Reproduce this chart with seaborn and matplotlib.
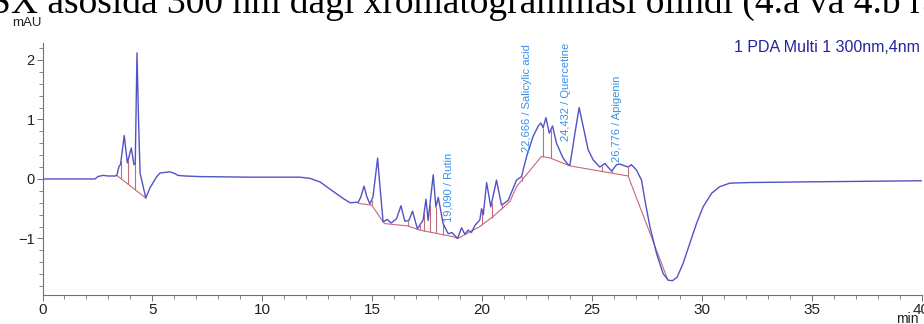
import numpy as np
import pandas as pd
import matplotlib
matplotlib.use("Agg")
import matplotlib.pyplot as plt
import seaborn as sns
from matplotlib.ticker import MultipleLocator

# ---------------- data ----------------
time_min = [0.00, 2.39, 2.52, 2.75, 2.98, 3.30, 3.38, 3.49, 3.55, 3.72, 3.86, 4.04, 4.16, 4.22,
            4.30, 4.37, 4.44, 4.70, 4.89, 5.20, 5.35, 5.57, 5.80, 6.03, 6.16, 6.48, 7.17, 9.44,
            11.26, 11.72, 12.17, 12.63, 13.23, 13.69, 14.00, 14.37, 14.49, 14.63, 14.76, 14.90,
            15.04, 15.25, 15.35, 15.50, 15.69, 15.86, 16.11, 16.31, 16.49, 16.67, 16.84, 17.06,
            17.32, 17.45, 17.55, 17.78, 17.90, 18.01, 18.23, 18.46, 18.63, 18.89, 19.07, 19.22,
            19.37, 19.52, 19.68, 19.90, 19.98, 20.06, 20.21, 20.40, 20.66, 20.89, 21.19, 21.57,
            21.80, 22.03, 22.33, 22.56, 22.68, 22.78, 22.91, 23.06, 23.21, 23.39, 23.69, 23.92,
            24.00, 24.23, 24.42, 24.60, 24.83, 25.06, 25.36, 25.59, 25.90, 26.12, 26.27, 26.65,
            26.80, 27.03, 27.26, 27.41, 27.64, 27.94, 28.24, 28.47, 28.67, 28.88, 29.15, 29.46,
            29.76, 30.06, 30.45, 30.82, 31.28, 32.19, 34.46, 40.00]
signal_mau = [0.00, 0.00, 0.04, 0.06, 0.05, 0.05, 0.06, 0.22, 0.24, 0.73, 0.27, 0.52, 0.24, 0.25,
              2.12, 1.00, 0.10, -0.32, -0.15, 0.04, 0.10, 0.11, 0.12, 0.09, 0.06, 0.05, 0.04, 0.03,
              0.03, 0.03, 0.01, -0.05, -0.21, -0.33, -0.40, -0.39, -0.30, -0.12, -0.30, -0.42,
              -0.30, 0.35, -0.10, -0.72, -0.68, -0.74, -0.67, -0.45, -0.71, -0.70, -0.54, -0.84,
              -0.69, -0.34, -0.70, 0.07, -0.47, -0.31, -0.75, -0.92, -0.90, -1.00, -0.82, -0.93,
              -0.86, -0.90, -0.78, -0.69, -0.50, -0.60, -0.06, -0.47, -0.02, -0.44, -0.36, -0.02,
              0.04, 0.38, 0.72, 0.89, 0.94, 0.86, 1.03, 0.77, 0.89, 0.60, 0.35, 0.24,
              0.23, 0.77, 1.20, 0.89, 0.49, 0.32, 0.20, 0.26, 0.13, 0.24, 0.25, 0.20,
              0.24, 0.15, -0.02, -0.35, -0.80, -1.25, -1.59, -1.70, -1.71, -1.65, -1.42, -1.08,
              -0.75, -0.47, -0.24, -0.13, -0.07, -0.06, -0.05, -0.03]

# integration baselines
base1_t = [3.38, 4.70]
base1_v = [0.06, -0.32]
base2_t = [14.37, 14.98, 15.50, 15.58, 16.63, 17.18, 18.68, 18.90, 19.90, 20.51, 21.27, 21.57,
           22.71, 23.12, 24.00, 26.65, 28.46]
base2_v = [-0.41, -0.44, -0.72, -0.75, -0.79, -0.86, -0.97, -1.00, -0.80, -0.63, -0.38, -0.13,
           0.38, 0.35, 0.22, 0.05, -1.70]
drop_t = [3.57, 3.90, 4.22, 14.98, 16.64, 17.17, 17.36, 17.63, 17.90, 18.23, 19.98, 20.44,
          20.89, 21.80, 22.78, 23.12, 25.44, 25.90, 26.65]

peak_rt = [19.090, 22.666, 24.432, 26.776]
peak_name = ["Rutin", "Salicylic acid", "Quercetine", "Apigenin"]

x_ticks = [0, 5, 10, 15, 20, 25, 30, 35, 40]
y_ticks = [-1, 0, 1, 2]

# ---------------- layout constants ----------------
label_y = [-0.72, 0.46, 0.63, 0.29]
W, H = 924, 324

sns.set_style("ticks")
plt.rcParams["font.family"] = ["Liberation Sans", "DejaVu Sans"]

fig = plt.figure(figsize=(W / 100, H / 100), dpi=100)
ax = fig.add_axes([42.5 / W, 1 - 295 / H, (921.5 - 42.5) / W, (295 - 42.7) / H])

df = pd.DataFrame({"t": time_min, "v": signal_mau})
line_col = "#5252c6"
base_col = "#c46a78"

# baselines
for bt, bv in [(base1_t, base1_v), (base2_t, base2_v)]:
    sns.lineplot(x=bt, y=bv, ax=ax, color=base_col, lw=0.8, sort=False, estimator=None)

# drop lines from curve to baseline
for d in drop_t:
    yc = np.interp(d, time_min, signal_mau)
    if d <= base1_t[-1]:
        yb = np.interp(d, base1_t, base1_v)
    else:
        yb = np.interp(d, base2_t, base2_v)
    ax.vlines(d, yb, yc, color=base_col, lw=0.8)

sns.lineplot(data=df, x="t", y="v", ax=ax, color=line_col, lw=1.0, sort=False, estimator=None)

for rt, nm, ly in zip(peak_rt, peak_name, label_y):
    txt = f"{rt:.3f}".replace(".", ",") + " / " + nm
    ax.text(rt - 0.62, ly, txt, rotation=90, ha="center", va="bottom",
            color="#3a8fe6", fontsize=8)

ax.set_xlim(0, 40)
ax.set_ylim(-1.95, 2.29)
ax.set_xticks(x_ticks)
ax.set_yticks(y_ticks)
ax.xaxis.set_minor_locator(MultipleLocator(1))
ax.yaxis.set_minor_locator(MultipleLocator(0.2))
ax.set_xlabel("")
ax.set_ylabel("")
for s in ["top", "right"]:
    ax.spines[s].set_visible(False)
for s in ["left", "bottom"]:
    ax.spines[s].set_color("#707070")
    ax.spines[s].set_linewidth(0.8)
ax.tick_params(axis="both", which="major", direction="out", length=4, width=0.7,
               color="#707070", pad=1.5)
ax.tick_params(axis="both", which="minor", direction="out", length=3, width=0.6,
               color="#707070")
ax.tick_params(axis="x", labelsize=11, labelcolor="#222222")
ax.tick_params(axis="y", labelsize=10.5, labelcolor="#222222")

fig.text(27 / W, 1 - 23 / H, "mAU", ha="center", va="center", fontsize=9.5, color="#222222")
fig.text(920 / W, 1 - 48 / H, "1 PDA Multi 1 300nm,4nm", ha="right", va="center",
         fontsize=11.5, color="#2424a0")
fig.text(907 / W, 1 - 319 / H, "min", ha="center", va="center", fontsize=10, color="#222222")
fig.text(-10 / W, 1 - 13 / H, "SX asosida 300 nm dagi xromatogrammasi olindi (4.a va 4.b rasmda)",
         ha="left", va="baseline", fontsize=27, family=["Liberation Serif"], color="black")

fig.savefig("out.png", dpi=100)
